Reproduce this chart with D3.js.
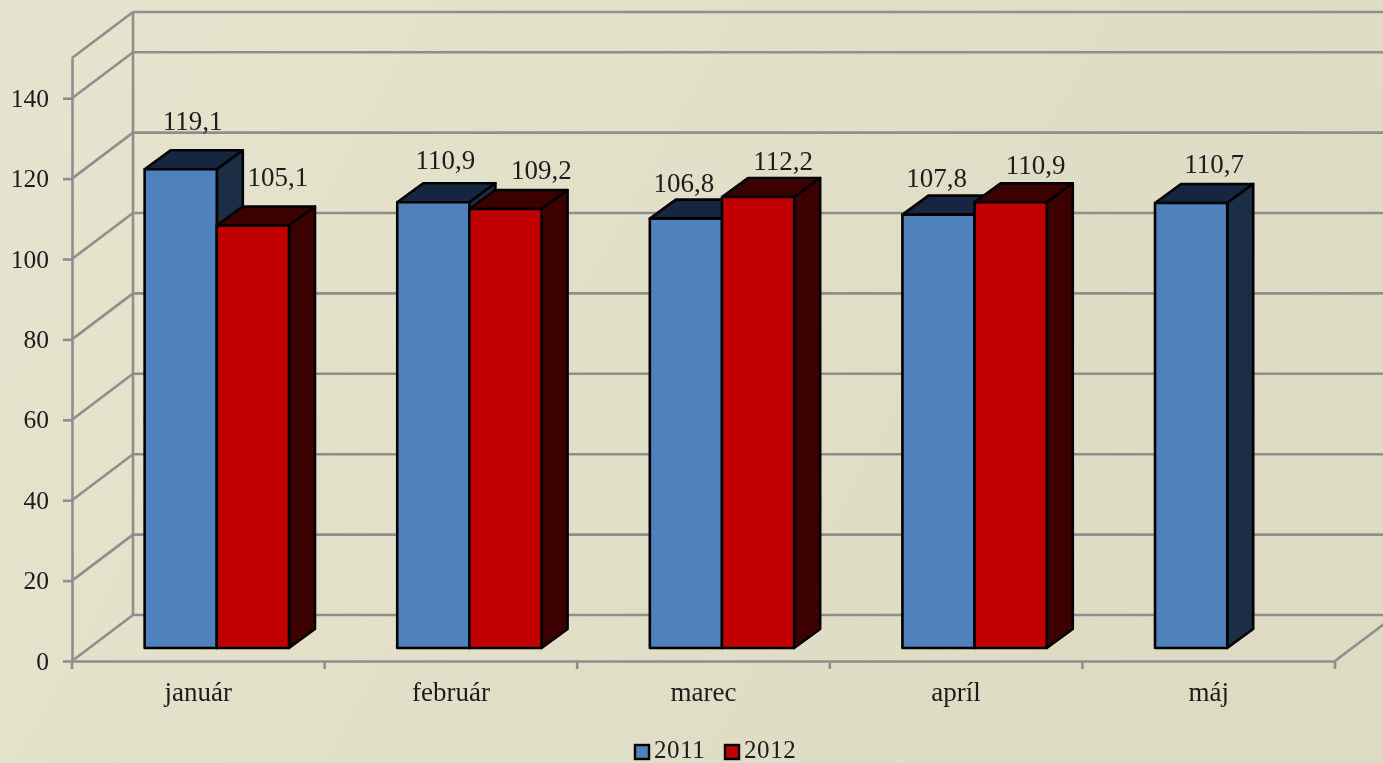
<!DOCTYPE html>
<html lang="en">
<head>
    <meta charset="UTF-8">
    <title>2011 / 2012</title>
    <script src="https://d3js.org/d3.v7.min.js"></script>
    <style>
        html, body { margin: 0; padding: 0; overflow: hidden; background: #e2e0c8; }
        svg { display: block; }
        text { font-family: "Liberation Serif", serif; font-size: 27px; fill: #1c1c1c; }
        .domain, .tick line, .wall { stroke: #8e8e8e; stroke-width: 2.6; fill: none; }
    </style>
</head>
<body>
    <svg width="1383" height="763"></svg>
    <script>
        const categories = ["január", "február", "marec", "apríl", "máj"];
        const seriesNames = ["2011", "2012"];
        const values2011 = [119.1, 110.9, 106.8, 107.8, 110.7];
        const values2012 = [105.1, 109.2, 112.2, 110.9, null];
        const yTicks = [0, 20, 40, 60, 80, 100, 120, 140];

        // hand placed data labels, offset from the bar's centre / top
        const labelDx2011 = [12, 12, -2, -2, 23];
        const labelDy2011 = [-39, -33, -27, -28, -30];
        const labelDx2012 = [25, 36, 25, 25, 0];
        const labelDy2012 = [-39, -30, -27, -28, 0];

        const width = 1383, height = 763;
        const frontLeft = 72, frontRight = 1335, baseY = 661;
        const wallDx = 61, wallDy = -46;      // depth of the whole box
        const barShiftX = 18.5, barShiftY = -13; // where the bars stand in the box
        const barDx = 26, barDy = -19;         // depth of one bar

        const svg = d3.select("svg");

        // Background
        const defs = svg.append("defs");
        const bg = defs.append("linearGradient").attr("id", "bg")
            .attr("x1", 0).attr("y1", 0).attr("x2", 1).attr("y2", 0.3);
        bg.append("stop").attr("offset", "0%").attr("stop-color", "#e6e4ce");
        bg.append("stop").attr("offset", "100%").attr("stop-color", "#dddbc2");
        defs.append("filter").attr("id", "soft")
            .append("feGaussianBlur").attr("stdDeviation", 0.55);

        svg.append("rect").attr("width", width).attr("height", height).attr("fill", "url(#bg)");

        const chart = svg.append("g").attr("filter", "url(#soft)");

        // Scales
        const x = d3.scaleBand().domain(categories).range([frontLeft, frontRight]);
        const xSeries = d3.scaleBand().domain(seriesNames)
            .range([0, x.step()]).paddingInner(0).paddingOuter(0.75);
        const y = d3.scaleLinear().domain([0, 150]).range([baseY, baseY - 603]);

        // Walls and gridlines
        const walls = chart.append("g");
        const wallValues = yTicks.concat([150]);
        walls.selectAll(".grid").data(wallValues).enter().append("line")
            .attr("class", "wall grid")
            .attr("x1", frontLeft + wallDx).attr("x2", width + 10)
            .attr("y1", d => y(d) + wallDy).attr("y2", d => y(d) + wallDy);
        walls.selectAll(".diag").data(wallValues).enter().append("line")
            .attr("class", "wall diag")
            .attr("x1", frontLeft).attr("x2", frontLeft + wallDx)
            .attr("y1", d => y(d)).attr("y2", d => y(d) + wallDy);
        walls.append("line").attr("class", "wall")
            .attr("x1", frontLeft + wallDx).attr("x2", frontLeft + wallDx)
            .attr("y1", y(150) + wallDy).attr("y2", y(0) + wallDy);
        walls.append("line").attr("class", "wall")
            .attr("x1", frontRight).attr("x2", frontRight + wallDx)
            .attr("y1", y(0)).attr("y2", y(0) + wallDy);

        // Axes
        chart.append("g")
            .attr("transform", `translate(${frontLeft},0)`)
            .call(d3.axisLeft(y).tickValues(yTicks).tickSize(9).tickPadding(14).tickSizeOuter(0))
            .call(g => g.selectAll("text").style("font-size", "25.5px").style("font-family", '"Liberation Serif", serif'));

        const xAxis = chart.append("g")
            .attr("transform", `translate(0,${baseY})`)
            .call(d3.axisBottom(x).tickSize(0).tickSizeOuter(0).tickPadding(21));
        xAxis.selectAll("text").style("font-size", "27px").style("font-family", '"Liberation Serif", serif');
        xAxis.selectAll(".boundary").data(d3.range(categories.length + 1)).enter().append("line")
            .attr("class", "boundary")
            .attr("stroke", "#8e8e8e").attr("stroke-width", 2.6)
            .attr("x1", i => frontLeft + i * x.step()).attr("x2", i => frontLeft + i * x.step())
            .attr("y1", 0).attr("y2", 8);

        // Bars
        const barRows = [];
        categories.forEach((c, i) => {
            barRows.push({ cat: c, name: "2011", value: values2011[i], dx: labelDx2011[i], dy: labelDy2011[i], front: "#4f81bd", top: "#17263f", side: "#1a2d45" });
            if (values2012[i] !== null) {
                barRows.push({ cat: c, name: "2012", value: values2012[i], dx: labelDx2012[i], dy: labelDy2012[i], front: "#c00000", top: "#3a0000", side: "#3c0000" });
            }
        });

        const barLeft = d => x(d.cat) + barShiftX + xSeries(d.name);
        const barTop = d => y(d.value) + barShiftY;
        const barBottom = y(0) + barShiftY;
        const barWidth = xSeries.bandwidth();

        const bars = chart.append("g").selectAll("g").data(barRows).enter().append("g")
            .attr("stroke", "#000").attr("stroke-width", 2.6).attr("stroke-linejoin", "round");

        bars.append("path").attr("fill", d => d.top).attr("d", d => {
            const l = barLeft(d), t = barTop(d);
            return `M${l},${t}L${l + barDx},${t + barDy}L${l + barWidth + barDx},${t + barDy}L${l + barWidth},${t}Z`;
        });
        bars.append("path").attr("fill", d => d.side).attr("d", d => {
            const r = barLeft(d) + barWidth, t = barTop(d);
            return `M${r},${t}L${r + barDx},${t + barDy}L${r + barDx},${barBottom + barDy}L${r},${barBottom}Z`;
        });
        bars.append("rect").attr("fill", d => d.front)
            .attr("x", barLeft).attr("y", barTop)
            .attr("width", barWidth).attr("height", d => barBottom - barTop(d));

        // Data labels
        chart.append("g").selectAll("text").data(barRows).enter().append("text")
            .attr("text-anchor", "middle")
            .attr("x", d => barLeft(d) + barWidth / 2 + d.dx)
            .attr("y", d => barTop(d) + d.dy)
            .text(d => d.value.toFixed(1).replace(".", ","));

        // Legend
        const legendColor = d3.scaleOrdinal().domain(seriesNames).range(["#4f81bd", "#c00000"]);
        const legend = chart.append("g").selectAll("g").data(seriesNames).enter().append("g")
            .attr("transform", (d, i) => `translate(${635 + i * 90},745)`);
        legend.append("rect").attr("width", 14).attr("height", 14)
            .attr("fill", d => legendColor(d)).attr("stroke", "#000").attr("stroke-width", 2.4);
        legend.append("text").attr("x", 19).attr("y", 12.5)
            .style("font-size", "25px").style("letter-spacing", "0.6px").text(d => d);
    </script>
</body>
</html>
